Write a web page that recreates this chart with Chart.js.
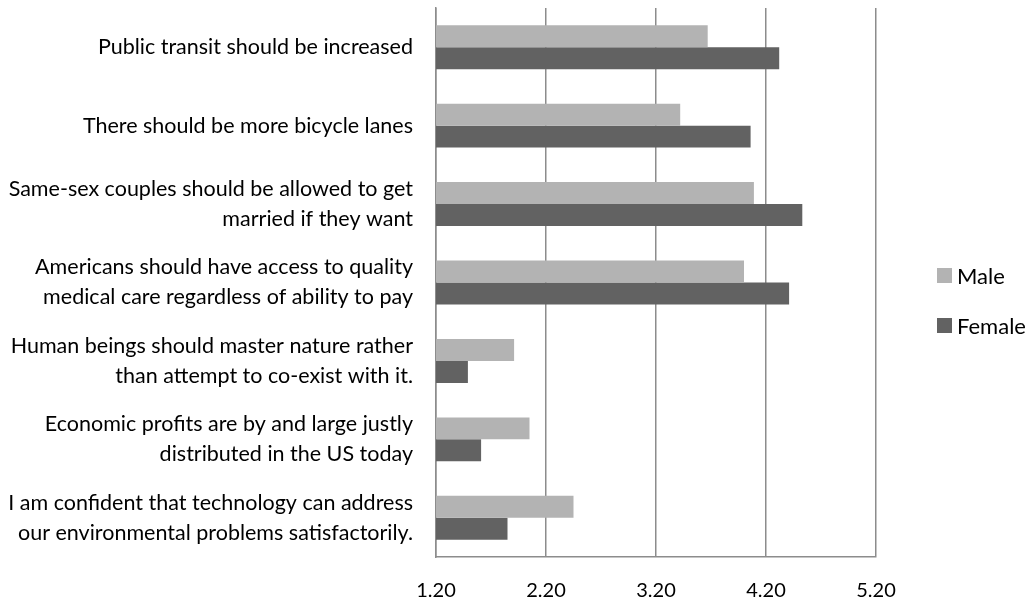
<!DOCTYPE html>
<html>
<head>
<meta charset="utf-8">
<script src="https://cdn.jsdelivr.net/npm/chart.js@4/dist/chart.umd.min.js"></script>
<style>
  body { margin: 0; background: #fff; }
  #wrap { width: 1035px; height: 604px; }
</style>
</head>
<body>
<div id="wrap"><canvas id="barChart" width="1035" height="604"></canvas></div>
<script>
  // survey statements (y axis), top to bottom
  const categories = [
    'Public transit should be increased',
    'There should be more bicycle lanes',
    ['Same-sex couples should be allowed to get', 'married if they want'],
    ['Americans should have access to quality', 'medical care regardless of ability to pay'],
    ['Human beings should master nature rather', 'than attempt to co-exist with it.'],
    ['Economic profits are by and large justly', 'distributed in the US today'],
    ['I am confident that technology can address', 'our environmental problems satisfactorily.']
  ];
  const maleValues = [3.67, 3.42, 4.09, 4.00, 1.91, 2.05, 2.45];
  const femaleValues = [4.32, 4.06, 4.53, 4.41, 1.49, 1.61, 1.85];
  const xTicks = [1.20, 2.20, 3.20, 4.20, 5.20];

  const FONT = 'Lato, "Open Sans", sans-serif';

  // legend drawn by hand so the plot area stays where it is
  const sideLegend = {
    id: 'sideLegend',
    afterDraw(chart) {
      const c = chart.ctx;
      c.save();
      c.font = '22px ' + FONT;
      c.textBaseline = 'middle';
      chart.data.datasets.forEach((ds, i) => {
        const y = 276 + i * 50;
        c.fillStyle = ds.backgroundColor;
        c.fillRect(937, y - 8, 15, 15);
        c.fillStyle = '#000';
        c.fillText(ds.label, 957, y + 1);
      });
      c.restore();
    }
  };

  const ctx = document.getElementById('barChart').getContext('2d');
  new Chart(ctx, {
    type: 'bar',
    data: {
      labels: categories,
      datasets: [{
        label: 'Male',
        data: maleValues,
        backgroundColor: '#b3b3b3'
      }, {
        label: 'Female',
        data: femaleValues,
        backgroundColor: '#626262'
      }]
    },
    options: {
      indexAxis: 'y',
      responsive: false,
      animation: false,
      devicePixelRatio: 1,
      layout: { padding: { top: 8, right: 159, left: 0, bottom: 0 } },
      datasets: { bar: { barPercentage: 1, categoryPercentage: 0.56 } },
      plugins: { legend: { display: false }, tooltip: { enabled: false } },
      scales: {
        x: {
          min: xTicks[0],
          max: xTicks[xTicks.length - 1],
          afterBuildTicks: s => { s.ticks = xTicks.map(v => ({ value: v })); },
          afterFit: s => { s.height = 47; s.paddingLeft = 0; s.paddingRight = 0; },
          grid: { color: '#8c8c8c', lineWidth: 1.5, drawTicks: false },
          border: { color: '#8c8c8c', width: 1.5 },
          ticks: {
            padding: 22,
            color: '#000',
            font: { family: FONT, size: 20 },
            callback: v => Number(v).toFixed(2)
          }
        },
        y: {
          afterFit: s => { s.width = 436; s.paddingTop = 0; s.paddingBottom = 0; },
          grid: { display: false },
          border: { color: '#8c8c8c', width: 1.5 },
          ticks: {
            padding: 15,
            color: '#000',
            font: { family: FONT, size: 21.5, lineHeight: 1.4 }
          }
        }
      }
    },
    plugins: [sideLegend]
  });
</script>
</body>
</html>
